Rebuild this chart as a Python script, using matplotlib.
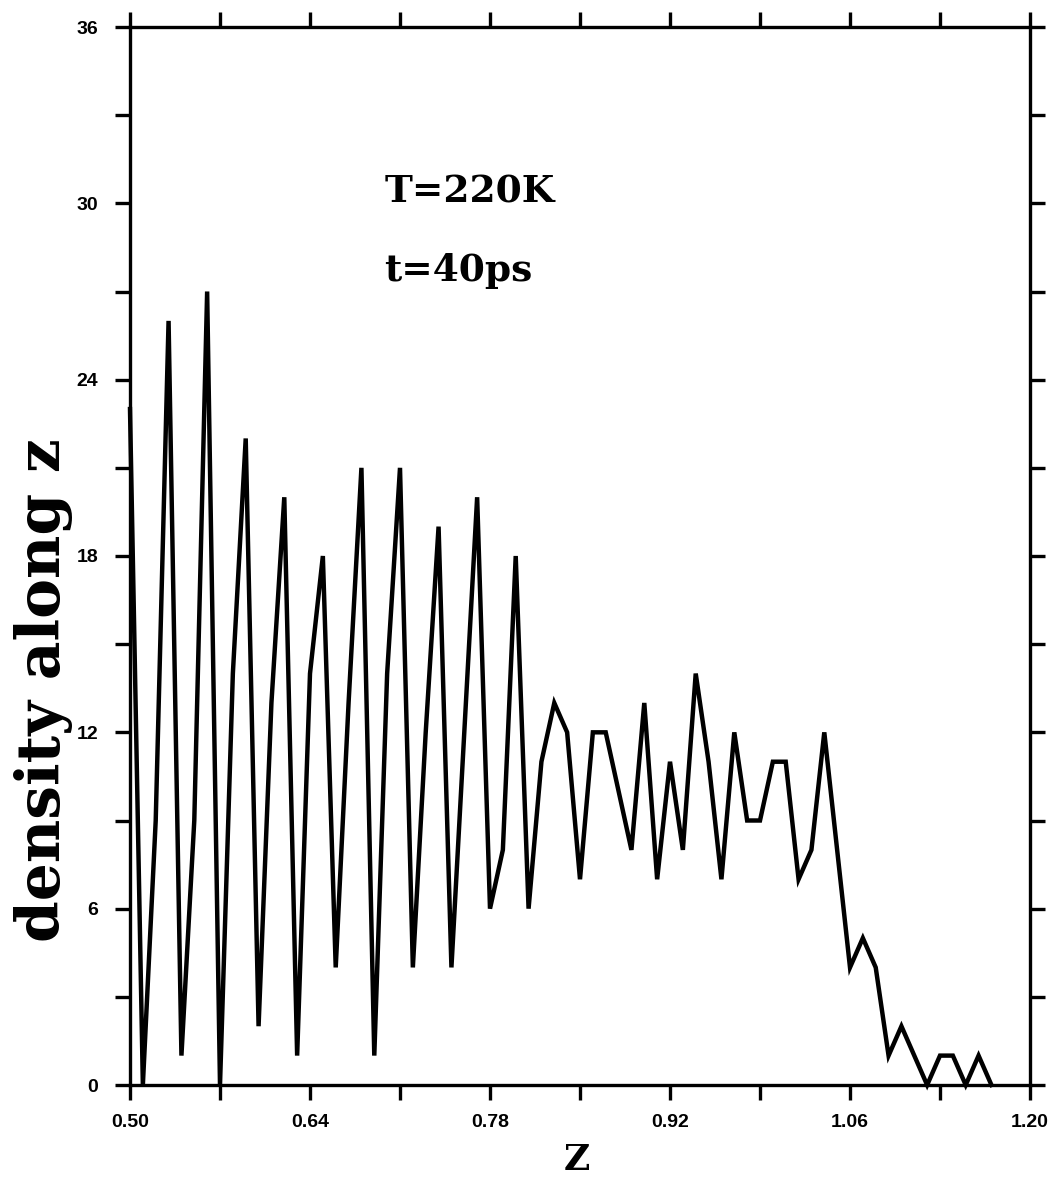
import numpy as np
import matplotlib
matplotlib.use("Agg")
import matplotlib.pyplot as plt
from matplotlib.ticker import FixedLocator

# ---- data ----
z_start = 0.50
z_step = 0.01
density = [
    23, 0, 9, 26, 1, 9, 27, 0, 14, 22,      # 0.50 - 0.59
    2, 13, 20, 1, 14, 18, 4, 13, 21, 1,     # 0.60 - 0.69
    14, 21, 4, 12, 19, 4, 12, 20, 6, 8,     # 0.70 - 0.79
    18, 6, 11, 13, 12, 7, 12, 12, 10, 8,    # 0.80 - 0.89
    13, 7, 11, 8, 14, 11, 7, 12, 9, 9,      # 0.90 - 0.99
    11, 11, 7, 8, 12, 8, 4, 5, 4, 1,        # 1.00 - 1.09
    2, 1, 0, 1, 1, 0, 1, 0,                 # 1.10 - 1.17
]
z = [round(z_start + i * z_step, 2) for i in range(len(density))]

x_ticks = [0.50, 0.64, 0.78, 0.92, 1.06, 1.20]
x_tick_labels = ["0.50", "0.64", "0.78", "0.92", "1.06", "1.20"]
x_minor = [0.57, 0.71, 0.85, 0.99, 1.13]
y_ticks = [0, 6, 12, 18, 24, 30, 36]
y_tick_labels = ["0", "6", "12", "18", "24", "30", "36"]
y_minor = [3, 9, 15, 21, 27, 33]

annot_T = "T=220K"
annot_t = "t=40ps"
xlabel = "Z"
ylabel = "density along z"

# ---- figure ----
W, H = 1050, 1193
fig = plt.figure(figsize=(W / 100, H / 100), dpi=100)
ax = fig.add_axes([130 / W, 1 - 1085 / H, 900 / W, 1058 / H])

ax.plot(z, density, color="black", lw=3.2, solid_joinstyle="miter",
        clip_on=False, zorder=3)

ax.set_xlim(0.50, 1.20)
ax.set_ylim(0, 36)

ax.xaxis.set_major_locator(FixedLocator(x_ticks))
ax.set_xticklabels(x_tick_labels)
ax.xaxis.set_minor_locator(FixedLocator(x_minor))
ax.yaxis.set_major_locator(FixedLocator(y_ticks))
ax.set_yticklabels(y_tick_labels)
ax.yaxis.set_minor_locator(FixedLocator(y_minor))

for sp in ax.spines.values():
    sp.set_linewidth(2.4)

ax.tick_params(which="both", direction="out", length=11, width=2.4,
               top=True, right=True, labeltop=False, labelright=False)
ax.tick_params(axis="x", which="major", pad=10)
ax.tick_params(axis="y", which="major", pad=12)

for lab in ax.get_xticklabels() + ax.get_yticklabels():
    lab.set_fontweight("bold")
    lab.set_fontsize(14)
    lab.set_family(["Liberation Sans", "DejaVu Sans"])

serif = ["DejaVu Serif"]
ax.text(0.698, 30.4, annot_T, family=serif, fontweight="bold", fontsize=27,
        ha="left", va="center")
ax.text(0.698, 27.7, annot_t, family=serif, fontweight="bold", fontsize=27,
        ha="left", va="center")

fig.text(577 / W, 1 - 1160 / H, xlabel, family=serif, fontweight="bold",
         fontsize=26, ha="center", va="center")
fig.text(44 / W, 1 - 690 / H, ylabel, family=serif, fontweight="bold",
         fontsize=43, ha="center", va="center", rotation=90)

fig.savefig("out.png", dpi=100, facecolor="white")
